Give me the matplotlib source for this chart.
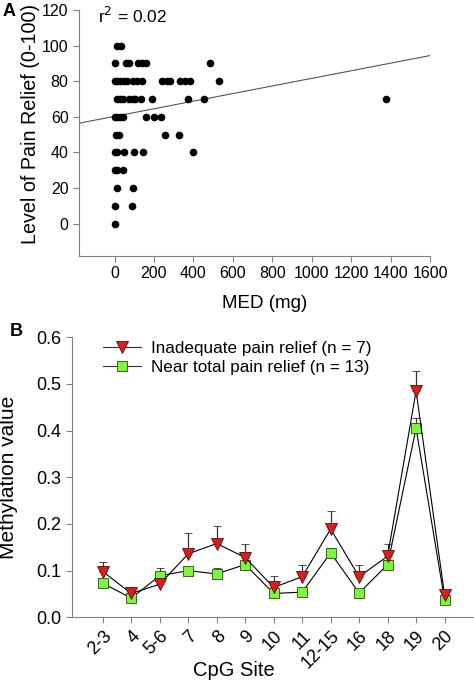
import numpy as np
import matplotlib
matplotlib.use('Agg')
import matplotlib.pyplot as plt
from matplotlib.lines import Line2D

plt.rcParams['font.family'] = ['Liberation Sans', 'DejaVu Sans']

# Panel A: MED (mg) vs level of pain relief
med = [15, 35,
       0, 60, 76, 117, 139, 161, 485,
       0, 12, 29, 49, 63, 93, 113, 139, 243, 266, 283, 333, 359, 384, 531,
       15, 29, 42, 76, 93, 105, 135, 190, 375, 455, 1377,
       0, 12, 29, 42, 161, 198, 237,
       9, 25, 257, 328,
       0, 12, 49, 101, 147, 397,
       0, 15, 45,
       15, 96,
       0, 87,
       0]
relief = [100, 100,
          90, 90, 90, 90, 90, 90, 90,
          80, 80, 80, 80, 80, 80, 80, 80, 80, 80, 80, 80, 80, 80, 80,
          70, 70, 70, 70, 70, 70, 70, 70, 70, 70, 70,
          60, 60, 60, 60, 60, 60, 60,
          50, 50, 50, 50,
          40, 40, 40, 40, 40, 40,
          30, 30, 30,
          20, 20,
          10, 10,
          0]

# Panel B: methylation by CpG site
sites = ['2-3', '4', '5-6', '7', '8', '9', '10', '11', '12-15', '16', '18', '19', '20']
inadequate = [0.098, 0.051, 0.071, 0.136, 0.158, 0.128, 0.064, 0.087, 0.189, 0.087, 0.131, 0.485, 0.048]
inadequate_err = [0.021, 0.007, 0.008, 0.044, 0.038, 0.029, 0.024, 0.025, 0.039, 0.025, 0.026, 0.042, 0.004]
near_total = [0.073, 0.041, 0.089, 0.100, 0.093, 0.113, 0.051, 0.054, 0.138, 0.052, 0.113, 0.405, 0.037]
near_total_err = [0.006, 0.015, 0.017, 0.006, 0.013, 0.010, 0.006, 0.005, 0.010, 0.006, 0.010, 0.023, 0.006]

fig = plt.figure(figsize=(4.74, 6.83), dpi=100)
gray = '#808080'

# ---- Panel A ----
ax1 = fig.add_axes([0.1667, 0.6256, 0.7405, 0.3598])
ax1.scatter(med, relief, s=20, color='black', zorder=3)
slope, intercept = np.polyfit(med, relief, 1)
xs = np.array([-180, 1600])
ax1.plot(xs, slope * xs + intercept, color='#555555', lw=0.8)
ax1.set_xlim(-180, 1600)
ax1.set_ylim(-18, 120)
ax1.set_xticks(range(0, 1601, 200))
ax1.set_yticks(range(0, 121, 20))
ax1.set_xlabel('MED (mg)', fontsize=13.5)
ax1.xaxis.set_label_coords(0.53, -0.158)
ax1.set_ylabel('Level of Pain Relief (0-100)', fontsize=14.2)
ax1.yaxis.set_label_coords(-0.112, 0.535)
for s in ['top', 'right']:
    ax1.spines[s].set_visible(False)
for s in ['left', 'bottom']:
    ax1.spines[s].set_color(gray)
ax1.tick_params(colors=gray, labelcolor='black', labelsize=11.5, length=4)
ax1.text(0.055, 0.975, 'r$^2$ = 0.02', transform=ax1.transAxes, fontsize=12.5, va='center')
fig.text(0.006, 0.983, 'A', fontsize=13, fontweight='bold', va='center')

# ---- Panel B ----
ax2 = fig.add_axes([0.152, 0.0962, 0.846, 0.41])
x = np.arange(len(sites))
tri_style = dict(marker='v', markersize=9, markerfacecolor='#d42020',
                 markeredgecolor='#5a0a0a', markeredgewidth=0.6)
sq_style = dict(marker='s', markersize=7.5, markerfacecolor='#7ff542',
                markeredgecolor='#2a4a10', markeredgewidth=0.6)
ax2.errorbar(x, inadequate, yerr=[np.zeros(len(x)), inadequate_err], color='black', lw=0.8,
             ecolor='#333333', elinewidth=0.9, capsize=3, zorder=3, **tri_style)
ax2.errorbar(x, near_total, yerr=[np.zeros(len(x)), near_total_err], color='black', lw=0.8,
             ecolor='#333333', elinewidth=0.9, capsize=3, zorder=2, **sq_style)
ax2.set_xlim(-1.08, 13)
ax2.set_ylim(0, 0.6)
ax2.set_xticks(x)
ax2.set_xticklabels(sites, rotation=45, ha='right', rotation_mode='anchor')
ax2.set_yticks(np.arange(0, 0.61, 0.1))
ax2.set_yticklabels([f'{v:.1f}' for v in np.arange(0, 0.61, 0.1)])
ax2.set_xlabel('CpG Site', fontsize=14.5, va='top')
ax2.xaxis.set_label_coords(0.404, -0.155)
ax2.set_ylabel('Methylation value', fontsize=15)
ax2.yaxis.set_label_coords(-0.135, 0.5)
for s in ['top', 'right']:
    ax2.spines[s].set_visible(False)
for s in ['left', 'bottom']:
    ax2.spines[s].set_color(gray)
ax2.tick_params(colors=gray, labelcolor='black', labelsize=13, length=4)
handles = [Line2D([], [], color='#333333', lw=0.8, **tri_style),
           Line2D([], [], color='#333333', lw=0.8, **sq_style)]
ax2.legend(handles, ['Inadequate pain relief (n = 7)', 'Near total pain relief (n = 13)'],
           loc='upper left', bbox_to_anchor=(0.04, 1.04), frameon=False, fontsize=12.3,
           handlelength=2.2, handletextpad=0.6, labelspacing=0.2)
fig.text(0.02, 0.515, 'B', fontsize=13, fontweight='bold', va='center')

fig.savefig('out.png', dpi=100)
